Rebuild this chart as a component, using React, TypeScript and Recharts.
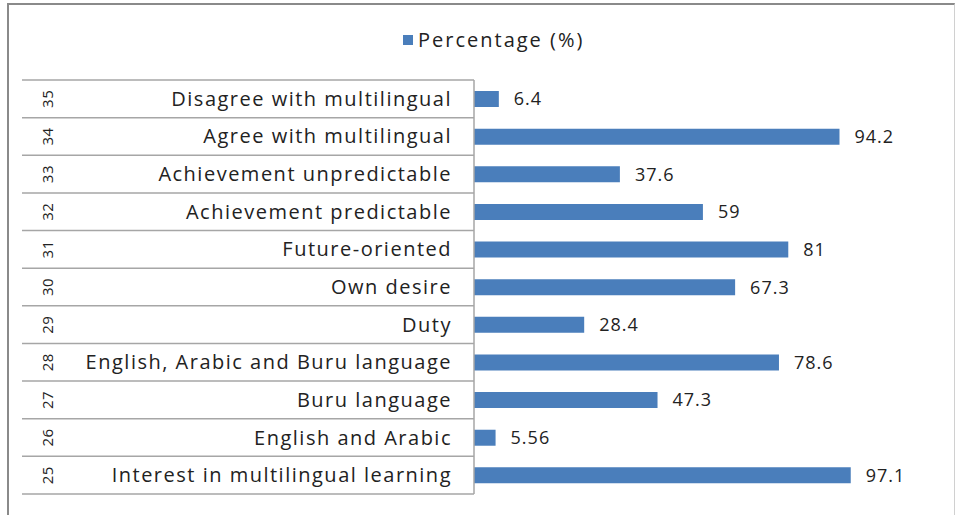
import React from 'react';
import { BarChart, Bar, XAxis, YAxis, LabelList } from 'recharts';

const codes = ['35', '34', '33', '32', '31', '30', '29', '28', '27', '26', '25'];
const items = [
  'Disagree with multilingual',
  'Agree with multilingual',
  'Achievement unpredictable',
  'Achievement predictable',
  'Future-oriented',
  'Own desire',
  'Duty',
  'English, Arabic and Buru language',
  'Buru language',
  'English and Arabic',
  'Interest in multilingual learning',
];
const percentage = [6.4, 94.2, 37.6, 59, 81, 67.3, 28.4, 78.6, 47.3, 5.56, 97.1];

const W = 955;
const H = 515;
const TOP = 80;
const BOTTOM = 21;
const BAND = (H - TOP - BOTTOM) / items.length;
const FONT = "'Open Sans', 'Noto Sans', sans-serif";
const INK = '#222';

const data = items.map((name, i) => ({ name, code: codes[i], value: percentage[i] }));

// two-level category tick: code rotated at the left, label right aligned, rule above
const CategoryTick = (props: any) => {
  const { x, y, index } = props;
  const top = y - BAND / 2;
  const right = x + 8;
  const last = index === items.length - 1;
  return (
    <g>
      <line x1={22} x2={right} y1={top} y2={top} stroke="#a6a6a6" strokeWidth={1.5} />
      {last && <line x1={22} x2={right} y1={top + BAND} y2={top + BAND} stroke="#a6a6a6" strokeWidth={1.5} />}
      <text
        x={right - 22}
        y={y}
        dy={7}
        textAnchor="end"
        fontSize={20}
        letterSpacing={1.5}
        fill={INK}
        fontFamily={FONT}
      >
        {items[index]}
      </text>
      <text
        x={48}
        y={y}
        transform={`rotate(-90 48 ${y})`}
        textAnchor="middle"
        dy={5}
        fontSize={15}
        letterSpacing={0.5}
        fill={INK}
        fontFamily={FONT}
      >
        {codes[index]}
      </text>
    </g>
  );
};

export default function App() {
  return (
    <div style={{ position: 'fixed', left: 0, top: 0, width: W, height: H, background: '#fff', overflow: 'hidden' }}>
      <div
        style={{
          position: 'absolute',
          left: 7,
          top: 3,
          width: W - 10,
          height: H + 20,
          borderLeft: '2px solid #8a8a8a',
          borderTop: '2px solid #8a8a8a',
          borderRight: '1px solid #d0d0d0',
        }}
      />
      <div
        style={{
          position: 'absolute',
          left: 403,
          top: 26,
          display: 'flex',
          alignItems: 'center',
          fontFamily: FONT,
          fontSize: 20,
          letterSpacing: 2,
          color: INK,
        }}
      >
        <span style={{ width: 10, height: 10, background: '#4A7EBB', marginRight: 5, display: 'inline-block' }} />
        Percentage (%)
      </div>
      <div style={{ position: 'absolute', left: 0, top: 0 }}>
        <BarChart
          width={W}
          height={H}
          data={data}
          layout="vertical"
          margin={{ top: TOP, right: 93, bottom: BOTTOM, left: 0 }}
        >
          <XAxis type="number" domain={[0, 100]} hide />
          <YAxis
            type="category"
            dataKey="name"
            width={474}
            tickLine={false}
            axisLine={{ stroke: '#a6a6a6', strokeWidth: 1.5 }}
            tick={<CategoryTick />}
            interval={0}
          />
          <Bar dataKey="value" fill="#4A7EBB" barSize={16} isAnimationActive={false}>
            <LabelList
              dataKey="value"
              position="right"
              offset={15}
              fontSize={18}
              letterSpacing={1}
              fill={INK}
              fontFamily={FONT}
            />
          </Bar>
        </BarChart>
      </div>
    </div>
  );
}
